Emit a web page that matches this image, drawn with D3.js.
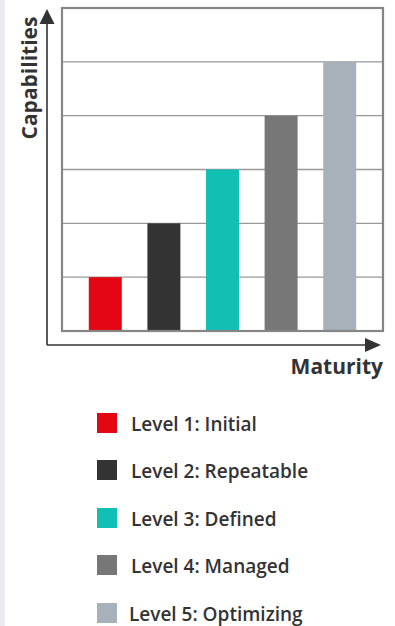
<!DOCTYPE html>
<html><head><meta charset="utf-8">
<script src="https://cdn.jsdelivr.net/npm/d3@7"></script>
<style>
html,body{margin:0;padding:0;background:#fff;}
svg{display:block;}
</style></head>
<body>
<svg id="chart" width="395" height="626"></svg>
<script>
const categories = ["Level 1: Initial","Level 2: Repeatable","Level 3: Defined","Level 4: Managed","Level 5: Optimizing"];
const values = [1,2,3,4,5];
const colors = ["#e30613","#333333","#12bfb5","#777777","#a6b1b9"];
const gridTicks = [1,2,3,4,5];
const yTitle = "Capabilities";
const xTitle = "Maturity";

const svg = d3.select("#chart");
const font = "'Open Sans',sans-serif";

svg.append("rect").attr("x",0).attr("y",0).attr("width",5).attr("height",626).attr("fill","#e8ecf0");

const plot = {left:62, right:383, top:8, bottom:331};
const x = d3.scaleBand().domain(categories).range([plot.left, plot.right]).paddingInner(0.437).paddingOuter(0.457);
const y = d3.scaleLinear().domain([0,6]).range([plot.bottom, plot.top]);

svg.append("rect").attr("x",plot.left).attr("y",plot.top).attr("width",plot.right-plot.left).attr("height",plot.bottom-plot.top)
  .attr("fill","#fff");

svg.append("g").selectAll("line").data(gridTicks).join("line")
  .attr("x1",plot.left).attr("x2",plot.right)
  .attr("y1",d=>y(d)).attr("y2",d=>y(d))
  .attr("stroke","#999").attr("stroke-width",1.3);

svg.append("g").selectAll("rect").data(values).join("rect")
  .attr("x",(d,i)=>x(categories[i]))
  .attr("width",x.bandwidth())
  .attr("y",d=>y(d))
  .attr("height",d=>y(0)-y(d))
  .attr("fill",(d,i)=>colors[i]);

svg.append("rect").attr("x",plot.left).attr("y",plot.top).attr("width",plot.right-plot.left).attr("height",plot.bottom-plot.top)
  .attr("fill","none").attr("stroke","#858585").attr("stroke-width",2.2);

const axisY = 345, axisX = 47;
svg.append("line").attr("x1",axisX).attr("x2",axisX).attr("y1",axisY).attr("y2",22)
  .attr("stroke","#333").attr("stroke-width",1.6);
svg.append("path").attr("d",`M${axisX},9 L${axisX+7.5},24 L${axisX-7.5},24 Z`).attr("fill","#333");
svg.append("line").attr("x1",axisX).attr("x2",367).attr("y1",axisY).attr("y2",axisY)
  .attr("stroke","#333").attr("stroke-width",1.6);
svg.append("path").attr("d",`M381,${axisY} L365,${axisY-7} L365,${axisY+7} Z`).attr("fill","#333");

svg.append("text").attr("transform","translate(37,78) rotate(-90)")
  .attr("text-anchor","middle").attr("font-family",font).attr("font-weight",700)
  .attr("font-size",21).attr("fill","#333").text(yTitle);
svg.append("text").attr("x",383).attr("y",374).attr("text-anchor","end")
  .attr("font-family",font).attr("font-weight",700).attr("font-size",21).attr("fill","#333").text(xTitle);

const legY = [413,460,508,555,603];
const leg = svg.append("g").selectAll("g").data(categories).join("g")
  .attr("transform",(d,i)=>`translate(97,${legY[i]})`);
leg.append("rect").attr("width",20).attr("height",20).attr("fill",(d,i)=>colors[i]);
leg.append("text").attr("x",(d,i)=>i===4?32:34).attr("y",18)
  .attr("font-family",font).attr("font-weight",600).attr("font-size",19).attr("fill","#333").text(d=>d);
</script>
</body></html>
